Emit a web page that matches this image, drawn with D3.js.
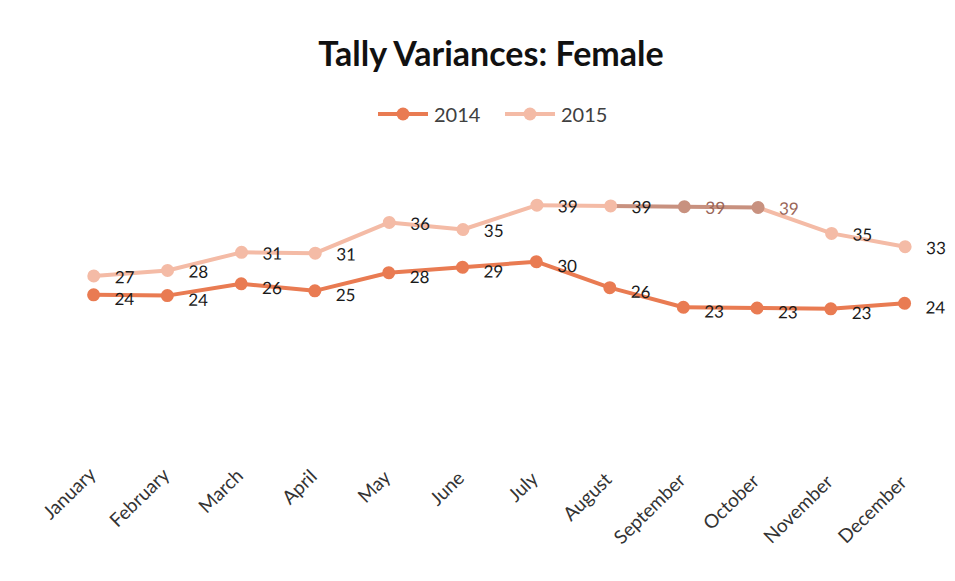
<!DOCTYPE html>
<html>
<head>
<meta charset="utf-8">
<script src="https://cdn.jsdelivr.net/npm/d3@7"></script>
<style>
  body { margin: 0; background: #fff; }
  text { font-family: Lato, "Open Sans", sans-serif; }
</style>
</head>
<body>
<div id="chart"></div>
<script>
// Data
const months = ["January", "February", "March", "April", "May", "June",
  "July", "August", "September", "October", "November", "December"];
const values2014 = [24, 24, 26, 25, 28, 29, 30, 26, 23, 23, 23, 24];
const values2015 = [27, 28, 31, 31, 36, 35, 39, 39, 39, 39, 35, 33];
const marked2015 = ["September", "October"];

// Config
const width = 955;
const height = 581;
const color2014 = "#e97b52";
const color2015 = "#f4bba6";
const colorMarked = "#c8917f";

const svg = d3.select("#chart")
  .append("svg")
    .attr("width", width)
    .attr("height", height);

svg.append("rect")
  .attr("width", width)
  .attr("height", height)
  .attr("fill", "#fff");

// title
svg.append("text")
  .attr("x", 491)
  .attr("y", 66)
  .attr("text-anchor", "middle")
  .attr("font-size", 34)
  .attr("font-weight", "bold")
  .attr("fill", "#111")
  .text("Tally Variances: Female");

// scales
const x = d3.scalePoint()
  .domain(months)
  .range([92, 903]);

const y = d3.scaleLinear()
  .domain([0, 45])
  .range([450, 167]);

// plot group (scan is slightly tilted)
const plot = svg.append("g")
  .attr("transform", "rotate(0.6, 497, 450)");

// x axis, no line or ticks
const xAxis = plot.append("g")
  .attr("transform", "translate(0, 466)")
  .call(d3.axisBottom(x).tickSize(0).tickPadding(0));
xAxis.select(".domain").remove();
xAxis.selectAll("text")
  .attr("font-family", "Lato, 'Open Sans', sans-serif")
  .attr("font-size", 19)
  .attr("fill", "#333")
  .attr("text-anchor", "end")
  .attr("dy", "0.35em")
  .attr("transform", "translate(0, 9) rotate(-45)");

function drawSeries(vals, baseColor, marked, labelDy) {
  const pts = months.map((m, i) => ({ m: m, v: vals[i] }));
  const segColor = d => marked.includes(d.m) ? colorMarked : baseColor;

  // segments, coloured by their end point
  plot.append("g")
    .selectAll("line")
    .data(pts.slice(1))
    .join("line")
      .attr("x1", (d, i) => x(pts[i].m))
      .attr("y1", (d, i) => y(pts[i].v))
      .attr("x2", d => x(d.m))
      .attr("y2", d => y(d.v))
      .attr("stroke", segColor)
      .attr("stroke-width", 4)
      .attr("stroke-linecap", "round");

  plot.append("g")
    .selectAll("circle")
    .data(pts)
    .join("circle")
      .attr("cx", d => x(d.m))
      .attr("cy", d => y(d.v))
      .attr("r", 6.5)
      .attr("fill", segColor);

  plot.append("g")
    .selectAll("text")
    .data(pts)
    .join("text")
      .attr("x", d => x(d.m) + 21)
      .attr("y", d => y(d.v) + labelDy)
      .attr("dy", "0.35em")
      .attr("font-size", 17)
      .attr("fill", d => marked.includes(d.m) ? "#9a6658" : "#1a1a1a")
      .text(d => d.v);
}

drawSeries(values2014, color2014, [], 4);
drawSeries(values2015, color2015, marked2015, 1);

// legend
const legend = svg.append("g");
const legendItems = [
  { name: "2014", color: color2014, x: 378 },
  { name: "2015", color: color2015, x: 505 }
];
legendItems.forEach(function(item) {
  legend.append("line")
    .attr("x1", item.x)
    .attr("x2", item.x + 50)
    .attr("y1", 114)
    .attr("y2", 114)
    .attr("stroke", item.color)
    .attr("stroke-width", 4);
  legend.append("circle")
    .attr("cx", item.x + 25)
    .attr("cy", 114)
    .attr("r", 6.5)
    .attr("fill", item.color);
  legend.append("text")
    .attr("x", item.x + 56)
    .attr("y", 115)
    .attr("dy", "0.35em")
    .attr("font-size", 20)
    .attr("fill", "#404040")
    .text(item.name);
});
</script>
</body>
</html>
